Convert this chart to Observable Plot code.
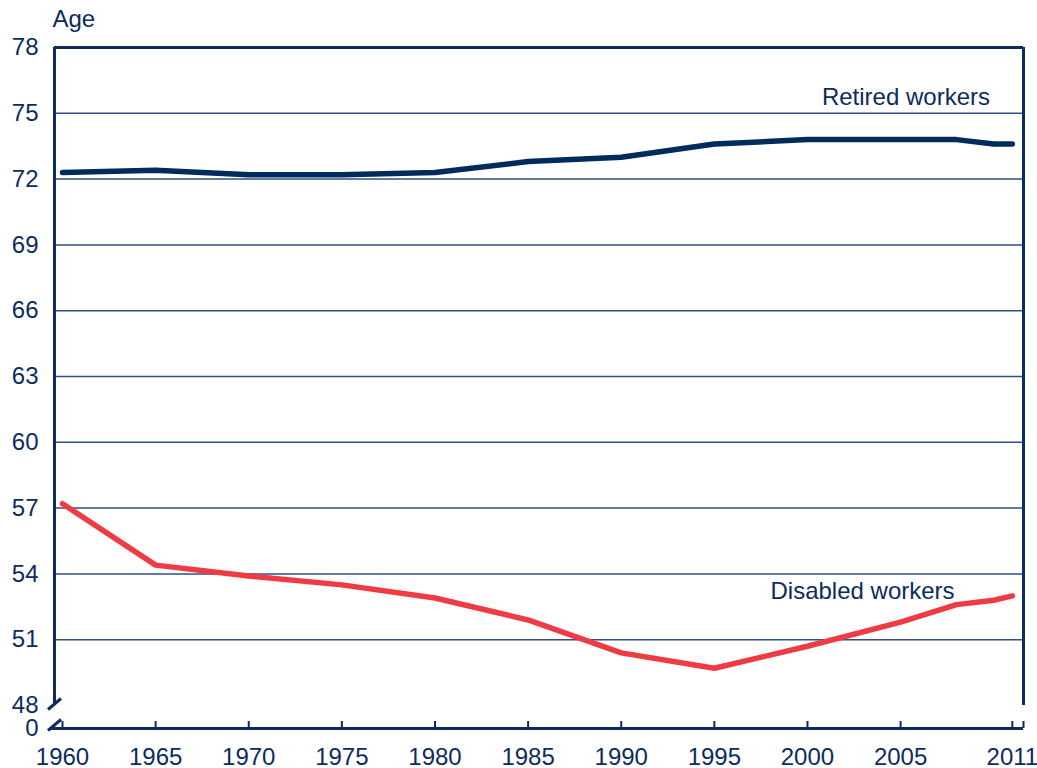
<!DOCTYPE html>
<html>
<head>
<meta charset="utf-8">
<script src="https://cdn.jsdelivr.net/npm/d3@7"></script>
<script src="https://cdn.jsdelivr.net/npm/@observablehq/plot@0.6"></script>
<style>
  html, body { margin: 0; padding: 0; background: #ffffff; }
  #chart { width: 1037px; height: 768px; }
</style>
</head>
<body>
<div id="chart"></div>
<script>
// ---- Data ----
const retiredYears  = [1960, 1965, 1970, 1975, 1980, 1985, 1990, 1995, 2000, 2005, 2008, 2010, 2011];
const retiredAge    = [72.3, 72.4, 72.2, 72.2, 72.3, 72.8, 73.0, 73.6, 73.8, 73.8, 73.8, 73.6, 73.6];
const disabledYears = [1960, 1965, 1970, 1975, 1980, 1985, 1990, 1995, 2000, 2005, 2008, 2010, 2011];
const disabledAge   = [57.2, 54.4, 53.9, 53.5, 52.9, 51.9, 50.4, 49.7, 50.7, 51.8, 52.6, 52.8, 53.0];
const seriesNames   = ["Retired workers", "Disabled workers"];
const xTickYears    = [1960, 1965, 1970, 1975, 1980, 1985, 1990, 1995, 2000, 2005, 2011];
const yTickValues   = [48, 51, 54, 57, 60, 63, 66, 69, 72, 75, 78];
const yAxisTitle    = "Age";

// ---- Layout helpers ----
const navy = "#0c2c5e";
const lineNavy = "#002b5c";
const red = "#ee3b44";
const fs = 24;
const pxPerUnit = 658 / 30;          // vertical pixels per age unit
const zeroVal = 48 - 23 / pxPerUnit; // position of the broken-axis "0"
const xMin = 1959.57, xMax = 2011.6;
const pxPerYear = 969 / (xMax - xMin);

const rows = [
  ...retiredYears.map((y, i) => ({year: y, age: retiredAge[i], series: seriesNames[0]})),
  ...disabledYears.map((y, i) => ({year: y, age: disabledAge[i], series: seriesNames[1]}))
];

const slashDx = 6.5 / pxPerYear, slashDy = 5.5 / pxPerUnit;
const breaks = [48 + 1.5 / pxPerUnit, zeroVal + 3.5 / pxPerUnit];
const tickLen = 7 / pxPerUnit;

const chart = Plot.plot({
  width: 1037,
  height: 768,
  marginLeft: 54,
  marginRight: 14,
  marginTop: 47,
  marginBottom: 40,
  style: {fontFamily: "'Liberation Sans', Arial, sans-serif", fontSize: fs + "px", color: navy, background: "#ffffff", overflow: "visible"},
  x: {domain: [xMin, xMax]},
  y: {domain: [zeroVal, 78]},
  marks: [
    // gridlines
    Plot.ruleY(yTickValues.filter(v => v > 48 && v < 78), {stroke: "#2d5086", strokeWidth: 1.5}),
    // frame: top, left, right
    Plot.ruleY([78], {stroke: navy, strokeWidth: 3, x1: xMin, x2: xMax}),
    Plot.ruleX([xMin], {stroke: navy, strokeWidth: 3, y1: 48, y2: 78}),
    Plot.ruleX([xMax], {stroke: navy, strokeWidth: 3, y1: 48, y2: 78}),
    // x axis line at the broken zero
    Plot.ruleY([zeroVal], {stroke: navy, strokeWidth: 3, x1: xMin - 4 / pxPerYear, x2: xMax}),
    // x tick marks (pointing up)
    Plot.ruleX([...xTickYears, xMax], {stroke: navy, strokeWidth: 2, y1: zeroVal, y2: zeroVal + tickLen}),
    // axis break slashes
    Plot.link(breaks, {
      x1: () => xMin - slashDx, x2: () => xMin + slashDx,
      y1: d => d - slashDy, y2: d => d + slashDy,
      stroke: navy, strokeWidth: 3
    }),
    // series lines
    Plot.line(rows, {x: "year", y: "age", z: "series",
      stroke: d => d.series === seriesNames[0] ? lineNavy : red,
      strokeWidth: 5.5, strokeLinejoin: "round"}),
    // series labels
    Plot.text([seriesNames[0]], {x: 2009.8, y: 75.72, textAnchor: "end", fill: navy, fontSize: fs}),
    Plot.text([seriesNames[1]], {x: 2007.9, y: 53.2, textAnchor: "end", fill: navy, fontSize: fs}),
    // axis title
    Plot.text([yAxisTitle], {frameAnchor: "top-left", lineAnchor: "middle", dy: -28, dx: -2, textAnchor: "start", fill: navy, fontSize: fs}),
    // axes
    Plot.axisY({ticks: [zeroVal, ...yTickValues], tickFormat: d => d === zeroVal ? "0" : String(d),
      tickSize: 0, tickPadding: 16, fill: navy, fontSize: fs, label: null}),
    Plot.axisX({ticks: xTickYears, tickFormat: d => String(d), tickSize: 0, tickPadding: 19, fill: navy, fontSize: fs, label: null})
  ]
});
document.getElementById("chart").appendChild(chart);
</script>
</body>
</html>
